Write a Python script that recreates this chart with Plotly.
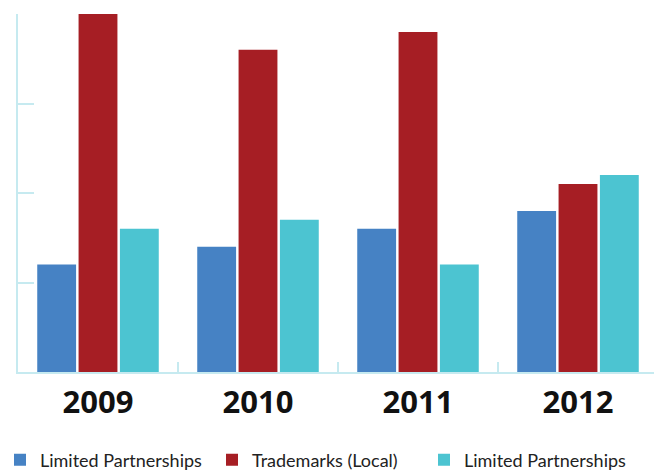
import plotly.graph_objects as go

years = ["2009", "2010", "2011", "2012"]
series_names = ["Limited Partnerships", "Trademarks (Local)", "Limited Partnerships"]
limited_a = [1.2, 1.4, 1.6, 1.8]
trademarks = [4.0, 3.6, 3.8, 2.1]
limited_b = [1.6, 1.7, 1.2, 2.2]
colors = ["#4682c4", "#a61e24", "#4cc4d1"]

axis_color = "#c6eaf0"

fig = go.Figure()
for name, vals, col in zip(series_names, [limited_a, trademarks, limited_b], colors):
    fig.add_trace(go.Bar(x=years, y=vals, name=name, marker=dict(color=col, line=dict(width=0))))

fig.update_layout(
    width=654, height=470,
    margin=dict(l=18, r=0, t=14, b=98),
    paper_bgcolor="white", plot_bgcolor="white",
    barmode="group", bargap=0.225, bargroupgap=0.06,
    showlegend=True,
    legend=dict(
        orientation="h", xref="container", yref="container",
        x=0.0, y=10 / 470, xanchor="left", yanchor="middle",
        font=dict(family="Lato", size=18, color="#222222"),
        entrywidth=167, entrywidthmode="pixels",
        itemclick=False,
    ),
    xaxis=dict(
        type="category", range=[-0.5, 3.475],
        showline=True, linecolor=axis_color, linewidth=1.5,
        ticks="inside", tickson="boundaries", ticklen=10, tickcolor=axis_color, tickwidth=1.5,
        showgrid=False, zeroline=False,
        tickfont=dict(family="Open Sans", size=31, color="#111111", weight="bold"),
        ticklabelstandoff=2,
    ),
    yaxis=dict(
        range=[0, 4], dtick=1,
        showline=True, linecolor=axis_color, linewidth=1.5,
        ticks="inside", ticklen=16, tickcolor=axis_color, tickwidth=1.5,
        showticklabels=False, showgrid=False, zeroline=False,
    ),
)

fig.write_html("out.html")
